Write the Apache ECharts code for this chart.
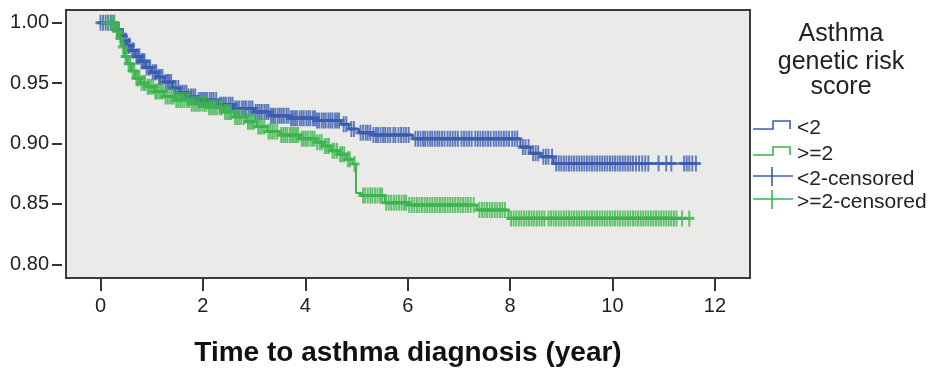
<!DOCTYPE html>
<html>
<head>
<meta charset="utf-8">
<script src="https://cdn.jsdelivr.net/npm/echarts@6/dist/echarts.min.js"></script>
<style>
  html, body { margin: 0; padding: 0; background: #ffffff; }
  #chart { width: 930px; height: 369px; }
</style>
</head>
<body>
<div id="chart"></div>
<script>
// Kaplan-Meier estimates: event times (years) and survival after each step.
const lowRiskTimes = [0, 0.30, 0.38, 0.45, 0.52, 0.60, 0.68, 0.78, 0.88, 1.00, 1.12, 1.25, 1.40, 1.55, 1.70, 1.90, 2.30, 2.60, 3.00, 3.30, 3.70, 4.20, 4.70, 4.85, 5.05, 5.30, 6.10, 8.20, 8.40, 8.60, 8.85, 11.63];
const lowRiskSurv  = [1.000, 0.994, 0.989, 0.985, 0.981, 0.977, 0.972, 0.968, 0.963, 0.959, 0.955, 0.951, 0.946, 0.942, 0.939, 0.936, 0.932, 0.929, 0.926, 0.923, 0.921, 0.919, 0.916, 0.912, 0.909, 0.907, 0.904, 0.897, 0.892, 0.889, 0.8835, 0.8835];

const highRiskTimes = [0, 0.30, 0.36, 0.42, 0.47, 0.53, 0.60, 0.68, 0.78, 0.90, 1.05, 1.25, 1.45, 1.75, 2.10, 2.40, 2.60, 2.85, 3.05, 3.25, 3.50, 3.90, 4.20, 4.35, 4.50, 4.65, 4.80, 4.92, 4.99, 5.10, 5.55, 6.00, 7.35, 7.97, 11.50];
const highRiskSurv  = [1.000, 0.993, 0.987, 0.980, 0.972, 0.966, 0.960, 0.954, 0.950, 0.947, 0.943, 0.939, 0.936, 0.933, 0.930, 0.926, 0.922, 0.918, 0.914, 0.910, 0.907, 0.904, 0.901, 0.898, 0.894, 0.891, 0.887, 0.883, 0.859, 0.857, 0.851, 0.849, 0.845, 0.838, 0.838];

// Censoring times (years) for each group.
const lowRiskCensored = [
  0.00, 0.05, 0.10, 0.15, 0.20, 0.25,
  0.32, 0.36, 0.40, 0.44, 0.47, 0.50, 0.54, 0.57, 0.62, 0.65, 0.70, 0.73, 0.76, 0.80, 0.83, 0.86, 0.90, 0.94, 0.97,
  1.02, 1.06, 1.09, 1.14, 1.17, 1.21, 1.27, 1.31, 1.34, 1.38, 1.43, 1.47, 1.52, 1.56, 1.60, 1.64, 1.68, 1.72, 1.77, 1.81, 1.85, 1.92, 1.96,
  2.00, 2.04, 2.08, 2.13, 2.17, 2.21, 2.26, 2.33, 2.37, 2.41, 2.45, 2.50, 2.54, 2.58, 2.63, 2.67, 2.71, 2.76, 2.80, 2.84, 2.89, 2.93, 2.97,
  3.03, 3.07, 3.11, 3.15, 3.20, 3.24, 3.28, 3.33, 3.37, 3.41, 3.46, 3.50, 3.54, 3.58, 3.63, 3.67, 3.72, 3.76, 3.80, 3.84, 3.89, 3.93, 3.97,
  4.02, 4.06, 4.10, 4.15, 4.19, 4.23, 4.27, 4.32, 4.36, 4.40, 4.45, 4.49, 4.53, 4.58, 4.62, 4.66, 4.75, 4.80, 4.90, 4.95,
  5.08, 5.13, 5.18, 5.22, 5.27, 5.33, 5.38, 5.42, 5.47, 5.52, 5.56, 5.61, 5.66, 5.72, 5.76, 5.82, 5.87, 5.92, 5.97, 6.02,
  6.15, 6.20, 6.25, 6.30, 6.34, 6.39, 6.44, 6.48, 6.53, 6.58, 6.62, 6.67, 6.72, 6.78, 6.83, 6.88, 6.93, 6.98,
  7.05, 7.10, 7.15, 7.20, 7.25, 7.32, 7.37, 7.42, 7.47, 7.52, 7.57, 7.62, 7.68, 7.73, 7.78, 7.83, 7.88, 7.93, 7.98,
  8.04, 8.09, 8.14, 8.25, 8.30, 8.36, 8.45, 8.50, 8.55, 8.65, 8.70, 8.75, 8.82,
  8.90, 8.95, 9.00, 9.05, 9.10, 9.15, 9.20, 9.25, 9.30, 9.35, 9.40, 9.45, 9.50, 9.55, 9.60, 9.65, 9.70, 9.75, 9.80, 9.85, 9.90, 9.95,
  10.00, 10.05, 10.10, 10.15, 10.20, 10.25, 10.30, 10.35, 10.40, 10.46, 10.52, 10.58, 10.64, 10.70,
  10.90, 11.05, 11.15, 11.40, 11.45, 11.50, 11.56, 11.63
];
const highRiskCensored = [
  0.15, 0.22, 0.27,
  0.32, 0.35, 0.39, 0.44, 0.49, 0.51, 0.55, 0.58, 0.63, 0.66, 0.70, 0.73, 0.76, 0.80, 0.84, 0.87, 0.92, 0.95, 0.99,
  1.03, 1.07, 1.10, 1.14, 1.18, 1.22, 1.27, 1.31, 1.35, 1.39, 1.43, 1.48, 1.52, 1.56, 1.60, 1.64, 1.69, 1.73, 1.78, 1.82, 1.86, 1.90, 1.94, 1.99,
  2.03, 2.07, 2.12, 2.16, 2.20, 2.24, 2.28, 2.33, 2.37, 2.43, 2.47, 2.51, 2.55, 2.63, 2.67, 2.71, 2.75, 2.80, 2.88, 2.92, 2.96,
  3.00, 3.08, 3.12, 3.16, 3.20, 3.28, 3.32, 3.36, 3.40, 3.45, 3.53, 3.57, 3.61, 3.65, 3.70, 3.74, 3.78, 3.82, 3.86, 3.93, 3.97,
  4.01, 4.05, 4.10, 4.14, 4.18, 4.23, 4.28, 4.32, 4.38, 4.42, 4.46, 4.53, 4.57, 4.62, 4.68, 4.72, 4.76, 4.83, 4.87, 4.96,
  5.13, 5.17, 5.22, 5.27, 5.31, 5.36, 5.41, 5.46, 5.50, 5.58, 5.63, 5.68, 5.73, 5.78, 5.83, 5.88, 5.93, 5.97,
  6.03, 6.08, 6.13, 6.18, 6.23, 6.28, 6.33, 6.38, 6.43, 6.48, 6.53, 6.58, 6.63, 6.68, 6.73, 6.78, 6.83, 6.88, 6.93, 6.98,
  7.03, 7.08, 7.13, 7.18, 7.23, 7.29, 7.40, 7.45, 7.50, 7.55, 7.60, 7.65, 7.70, 7.75, 7.80, 7.85, 7.90,
  8.02, 8.07, 8.12, 8.17, 8.22, 8.27, 8.32, 8.37, 8.42, 8.47, 8.52, 8.57, 8.62, 8.67, 8.75, 8.80, 8.85, 8.90, 8.95,
  9.00, 9.05, 9.10, 9.15, 9.20, 9.25, 9.30, 9.35, 9.40, 9.45, 9.50, 9.55, 9.60, 9.65, 9.70, 9.75, 9.80, 9.85, 9.90, 9.95,
  10.00, 10.05, 10.10, 10.15, 10.20, 10.25, 10.30, 10.35, 10.40, 10.45, 10.50, 10.55, 10.60, 10.65, 10.70, 10.75, 10.80, 10.85, 10.90, 10.95,
  11.00, 11.05, 11.10, 11.15, 11.20, 11.25, 11.36, 11.50
];

// Axis ticks
const xTicks = [0, 2, 4, 6, 8, 10, 12];
const yTicks = [0.80, 0.85, 0.90, 0.95, 1.00];

const groupNames = ['<2', '>=2', '<2-censored', '>=2-censored'];
const legendTitle = ['Asthma', 'genetic risk', 'score'];
const xAxisTitle = 'Time to asthma diagnosis (year)';

const BLUE = '#3b5daf';
const GREEN = '#3cb44e';
const FONT = '"Liberation Sans", Arial, sans-serif';

// Survival at time t from a step function (value of the last step at or before t).
function survivalAt(times, surv, t) {
  let s = surv[0];
  for (let i = 0; i < times.length; i++) {
    if (times[i] <= t) s = surv[i]; else break;
  }
  return s;
}

const stepData = (times, surv) => times.map((t, i) => [t, surv[i]]);
const censorData = (cens, times, surv) => cens.map(t => [t, survivalAt(times, surv, t)]);

const plusSymbol = 'path://M5,0 L5,16 M0,8 L10,8';

const chart = echarts.init(document.getElementById('chart'), null, { renderer: 'canvas' });

// Legend drawn at the right of the plot
const legendX = 753;
const legendGraphics = [];
const titleY = [34, 62, 87];
legendTitle.forEach((line, i) => {
  legendGraphics.push({
    type: 'text', x: 841, y: titleY[i],
    style: { text: line, font: '25px ' + FONT, fill: '#222', align: 'center', verticalAlign: 'middle' }
  });
});
const rowY = [128, 154, 179, 202];
// step icons
[[BLUE, 0], [GREEN, 1]].forEach(([c, i]) => {
  const y = rowY[i];
  legendGraphics.push({
    type: 'polyline',
    shape: { points: [[legendX, y + 1], [legendX + 20, y + 1], [legendX + 20, y - 7], [legendX + 37, y - 7], [legendX + 37, y + 1]] },
    style: { stroke: c, lineWidth: 1.6, fill: null }
  });
});
// censor icons
[[BLUE, 2], [GREEN, 3]].forEach(([c, i]) => {
  const y = rowY[i] - 3;
  legendGraphics.push({
    type: 'polyline', shape: { points: [[legendX, y], [legendX + 40, y]] },
    style: { stroke: c, lineWidth: 1.6, fill: null }
  });
  legendGraphics.push({
    type: 'polyline', shape: { points: [[legendX + 19, y - 9], [legendX + 19, y + 10]] },
    style: { stroke: c, lineWidth: 1.6, fill: null }
  });
});
groupNames.forEach((name, i) => {
  legendGraphics.push({
    type: 'text', x: 797, y: rowY[i],
    style: { text: name, font: '21px ' + FONT, fill: '#222', align: 'left', verticalAlign: 'middle' }
  });
});

chart.setOption({
  animation: false,
  backgroundColor: '#ffffff',
  grid: {
    left: 66, top: 10, right: 180, bottom: 91,
    outerBoundsMode: 'none', containLabel: false,
    show: true, backgroundColor: '#eaeae8', borderColor: '#3c3c3c', borderWidth: 2
  },
  xAxis: {
    type: 'value', min: -0.674, max: 12.686,
    offset: 1,
    axisLine: { show: false, onZero: false },
    splitLine: { show: false },
    axisTick: { show: true, length: 12, customValues: xTicks, lineStyle: { color: '#333', width: 2 } },
    axisLabel: { customValues: xTicks, formatter: v => String(v), margin: 17, fontSize: 20, fontFamily: FONT, color: '#222' },
    name: xAxisTitle, nameLocation: 'middle', nameGap: 60,
    nameTextStyle: { fontSize: 28, fontWeight: 'bold', fontFamily: FONT, color: '#111' }
  },
  yAxis: {
    type: 'value', min: 0.78864, max: 1.01053,
    offset: 4,
    axisLine: { show: false, onZero: false },
    splitLine: { show: false },
    axisTick: { show: true, length: 10, customValues: yTicks, lineStyle: { color: '#333', width: 2 } },
    axisLabel: { customValues: yTicks, formatter: v => v.toFixed(2), margin: 13, fontSize: 20, fontFamily: FONT, color: '#222' }
  },
  series: [
    {
      name: groupNames[0], type: 'line', step: 'end', showSymbol: false, silent: true,
      data: stepData(lowRiskTimes, lowRiskSurv),
      lineStyle: { color: BLUE, width: 2 }, z: 2
    },
    {
      name: groupNames[2], type: 'scatter', silent: true,
      data: censorData(lowRiskCensored, lowRiskTimes, lowRiskSurv),
      symbol: plusSymbol, symbolSize: [10, 16],
      itemStyle: { color: 'rgba(0,0,0,0)', borderColor: BLUE, borderWidth: 2.4 }, z: 3
    },
    {
      name: groupNames[1], type: 'line', step: 'end', showSymbol: false, silent: true,
      data: stepData(highRiskTimes, highRiskSurv),
      lineStyle: { color: GREEN, width: 2 }, z: 4
    },
    {
      name: groupNames[3], type: 'scatter', silent: true,
      data: censorData(highRiskCensored, highRiskTimes, highRiskSurv),
      symbol: plusSymbol, symbolSize: [10, 16],
      itemStyle: { color: 'rgba(0,0,0,0)', borderColor: GREEN, borderWidth: 2.4 }, z: 5
    }
  ],
  graphic: legendGraphics
});
</script>
</body>
</html>
